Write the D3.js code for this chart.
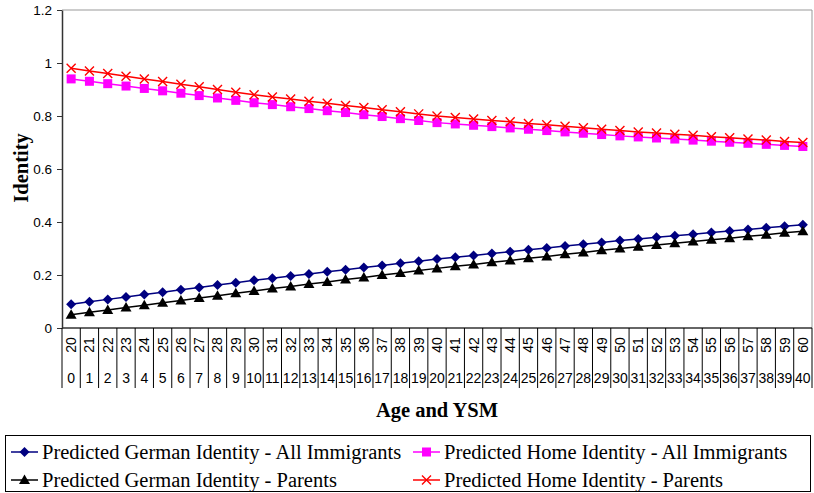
<!DOCTYPE html>
<html>
<head>
<meta charset="utf-8">
<script src="https://cdn.jsdelivr.net/npm/d3@7"></script>
<style>
  body { margin: 0; background: #fff; }
  svg { display: block; }
</style>
</head>
<body>
<script>
// categories: age and years since migration
let ages = d3.range(20, 61).map(String)
let ysm = d3.range(0, 41).map(String)

let yTicks = [0, 0.2, 0.4, 0.6, 0.8, 1, 1.2]
let yTickLabels = ['0', '0.2', '0.4', '0.6', '0.8', '1', '1.2']

let germanAll = [0.090, 0.099, 0.108, 0.117, 0.126, 0.135, 0.144, 0.153, 0.162, 0.171, 0.180,
    0.188, 0.196, 0.204, 0.212, 0.220, 0.228, 0.236, 0.244, 0.252, 0.260,
    0.267, 0.274, 0.281, 0.288, 0.295, 0.302, 0.309, 0.316, 0.323, 0.330,
    0.336, 0.342, 0.348, 0.354, 0.360, 0.366, 0.372, 0.378, 0.384, 0.390]
let homeAll = [0.940, 0.931, 0.922, 0.913, 0.904, 0.895, 0.886, 0.877, 0.868, 0.859, 0.850,
    0.843, 0.835, 0.828, 0.820, 0.813, 0.805, 0.798, 0.790, 0.783, 0.775,
    0.770, 0.765, 0.760, 0.755, 0.750, 0.745, 0.740, 0.735, 0.730, 0.725,
    0.721, 0.717, 0.713, 0.709, 0.705, 0.701, 0.697, 0.693, 0.689, 0.685]
let germanParents = [0.050, 0.059, 0.068, 0.077, 0.086, 0.095, 0.104, 0.113, 0.122, 0.131, 0.140,
    0.149, 0.157, 0.166, 0.174, 0.183, 0.191, 0.200, 0.208, 0.217, 0.225,
    0.233, 0.240, 0.248, 0.255, 0.263, 0.270, 0.278, 0.285, 0.293, 0.300,
    0.307, 0.313, 0.320, 0.326, 0.333, 0.339, 0.346, 0.352, 0.359, 0.365]
let homeParents = [0.980, 0.970, 0.960, 0.950, 0.940, 0.930, 0.920, 0.910, 0.900, 0.890, 0.880,
    0.872, 0.864, 0.856, 0.848, 0.840, 0.832, 0.824, 0.816, 0.808, 0.800,
    0.794, 0.789, 0.783, 0.778, 0.772, 0.767, 0.761, 0.756, 0.750, 0.745,
    0.740, 0.736, 0.731, 0.727, 0.722, 0.718, 0.713, 0.709, 0.704, 0.700]

let seriesNames = ['Predicted German Identity - All Immigrants', 'Predicted Home Identity - All Immigrants',
    'Predicted German Identity - Parents', 'Predicted Home Identity - Parents']

let series = [
    { name: seriesNames[0], values: germanAll, color: '#000080', marker: 'diamond' },
    { name: seriesNames[1], values: homeAll, color: '#ff00ff', marker: 'square' },
    { name: seriesNames[2], values: germanParents, color: '#000000', marker: 'triangle' },
    { name: seriesNames[3], values: homeParents, color: '#ff0000', marker: 'cross' }
]

let W = 814, H = 493
let plot = { left: 62, right: 812, top: 10, bottom: 328 }

let svg = d3.select('body').append('svg')
    .attr('width', W)
    .attr('height', H)

let xScale = d3.scaleBand()
    .domain(ages)
    .range([plot.left, plot.right])

let yScale = d3.scaleLinear()
    .domain([0, 1.2])
    .range([plot.bottom, plot.top])

// plot area border (top and right)
svg.append('path')
    .attr('d', `M${plot.left},${plot.top}H${plot.right}V${plot.bottom}`)
    .attr('fill', 'none')
    .attr('stroke', '#999')
    .attr('stroke-width', 1)

// y axis
let yAxis = svg.append('g')
    .attr('transform', 'translate(' + plot.left + ',0)')
    .call(d3.axisLeft(yScale).tickValues(yTicks).tickSize(5).tickSizeOuter(0)
        .tickFormat((d, i) => yTickLabels[i]))
yAxis.select('.domain').attr('stroke', '#333').attr('stroke-width', 1.5)
yAxis.selectAll('.tick line').attr('stroke', '#333')
yAxis.selectAll('.tick text')
    .attr('font-family', 'Arial, "Liberation Sans", sans-serif')
    .attr('font-size', 13.5)
    .attr('fill', '#000')
    .attr('dx', -2)

// x axis line
svg.append('line')
    .attr('x1', plot.left).attr('x2', plot.right)
    .attr('y1', plot.bottom).attr('y2', plot.bottom)
    .attr('stroke', '#333').attr('stroke-width', 1.5)

// category separators spanning both label rows
let sepBottom = 388
let bounds = ages.map(a => xScale(a)).concat([plot.right])
svg.append('g').selectAll('line')
    .data(bounds)
    .enter().append('line')
    .attr('x1', d => d).attr('x2', d => d)
    .attr('y1', plot.bottom).attr('y2', sepBottom)
    .attr('stroke', '#000').attr('stroke-width', 1)

let half = xScale.bandwidth() / 2

// age row (rotated)
svg.append('g').selectAll('text')
    .data(ages)
    .enter().append('text')
    .attr('transform', d => 'translate(' + (xScale(d) + half + 5) + ',345) rotate(-90)')
    .attr('text-anchor', 'middle')
    .attr('font-family', 'Arial, "Liberation Sans", sans-serif')
    .attr('font-size', 14)
    .text(d => d)

// ysm row
svg.append('g').selectAll('text')
    .data(ysm)
    .enter().append('text')
    .attr('x', (d, i) => xScale(ages[i]) + half)
    .attr('y', 383)
    .attr('text-anchor', 'middle')
    .attr('font-family', 'Arial, "Liberation Sans", sans-serif')
    .attr('font-size', 14)
    .text(d => d)

// axis titles
svg.append('text')
    .attr('x', (plot.left + plot.right) / 2)
    .attr('y', 417)
    .attr('text-anchor', 'middle')
    .attr('font-family', '"Liberation Serif", "Times New Roman", serif')
    .attr('font-weight', 'bold')
    .attr('font-size', 20.5)
    .text('Age and YSM')

svg.append('text')
    .attr('transform', 'translate(28,168) rotate(-90)')
    .attr('text-anchor', 'middle')
    .attr('font-family', '"Liberation Serif", "Times New Roman", serif')
    .attr('font-weight', 'bold')
    .attr('font-size', 20.5)
    .text('Identity')

let line = d3.line()
    .x((d, i) => xScale(ages[i]) + half)
    .y(d => yScale(d))

function drawMarker(g, type, color, x, y) {
    if (type === 'diamond') {
        g.append('path').attr('d', `M${x},${y - 5}L${x + 5},${y}L${x},${y + 5}L${x - 5},${y}Z`).attr('fill', color)
    } else if (type === 'square') {
        g.append('rect').attr('x', x - 4.5).attr('y', y - 4.5).attr('width', 9).attr('height', 9).attr('fill', color)
    } else if (type === 'triangle') {
        g.append('path').attr('d', `M${x},${y - 5.5}L${x + 5.5},${y + 4}L${x - 5.5},${y + 4}Z`).attr('fill', color)
    } else {
        g.append('path').attr('d', `M${x - 4.5},${y - 4.5}L${x + 4.5},${y + 4.5}M${x + 4.5},${y - 4.5}L${x - 4.5},${y + 4.5}`)
            .attr('stroke', color).attr('stroke-width', 1.4).attr('fill', 'none')
    }
}

series.forEach(function (s) {
    let g = svg.append('g')
    g.append('path')
        .datum(s.values)
        .attr('d', line)
        .attr('fill', 'none')
        .attr('stroke', s.color)
        .attr('stroke-width', 1.5)
    s.values.forEach(function (v, i) {
        drawMarker(g, s.marker, s.color, xScale(ages[i]) + half, yScale(v))
    })
})

// legend
let legend = svg.append('g')
legend.append('rect')
    .attr('x', 5.5).attr('y', 435.5)
    .attr('width', 805).attr('height', 56)
    .attr('fill', '#fff').attr('stroke', '#000').attr('stroke-width', 1)

let legendPos = [[11, 452], [413, 452], [11, 480], [413, 480]]
series.forEach(function (s, i) {
    let x = legendPos[i][0], y = legendPos[i][1]
    legend.append('line')
        .attr('x1', x).attr('x2', x + 27)
        .attr('y1', y).attr('y2', y)
        .attr('stroke', s.color).attr('stroke-width', 1.5)
    drawMarker(legend, s.marker, s.color, x + 13.5, y)
    legend.append('text')
        .attr('x', x + 31)
        .attr('y', y + 7)
        .attr('font-family', '"Liberation Serif", "Times New Roman", serif')
        .attr('font-size', 20.5)
        .text(s.name)
})
</script>
</body>
</html>
